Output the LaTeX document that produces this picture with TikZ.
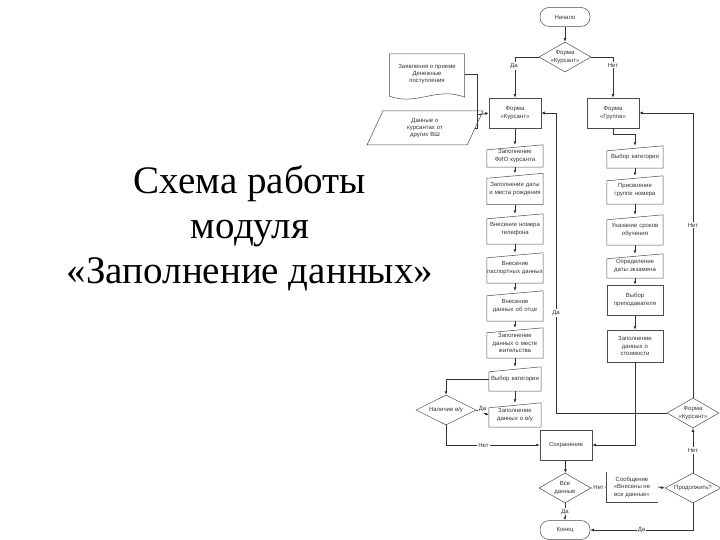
\documentclass[tikz,border=0pt]{standalone}
\usepackage{fontspec}
\setmainfont{Liberation Serif}
\newfontfamily\sm{Liberation Sans}
\usetikzlibrary{calc,shapes.geometric,arrows.meta}
\tikzset{
 shp/.style={draw=black!70,line width=0.5pt},
 txt/.style={inner sep=0pt,align=center,font=\sm\fontsize{6}{7.4}\selectfont,text=black!80},
 box/.style={txt,shp,minimum width=#1pt,minimum height=30pt},
 arr/.style={draw=black!80,line width=0.8pt,-{Latex[length=3.5pt,width=3pt]}},
 ln/.style={draw=black!80,line width=0.8pt},
 lbl/.style={txt,fill=white,inner sep=1pt},
 dec/.style={txt,shp,diamond,aspect=1.7,minimum width=#1pt,minimum height=30pt,inner sep=0pt},
 term/.style={txt,shp,rounded corners=9pt,minimum width=50pt,minimum height=19pt}
}
\newcommand\maninp[6]{\node[txt,minimum width=#4pt,minimum height=#5pt,text width=#4pt] (#1) at (#2,#3) {#6};
 \draw[shp] ($(#1.north west)+(0,5)$) -- (#1.north east) -- (#1.south east) -- (#1.south west) -- cycle;}
\begin{document}
\begin{tikzpicture}[x=1pt,y=-1pt]
\useasboundingbox (0,0) rectangle (720,540);
\node[font=\fontsize{39}{45}\selectfont,align=center] (title) at (250,228) {Схема работы\\модуля\\«Заполнение данных»};
% top
\node[term] (nach) at (565,17) {Начало};
\node[dec=52] (d1) at (565,57) {Форма\\«Курсант»};
% document
\node[txt,minimum width=75pt,minimum height=40pt] (doc) at (427,74) {Заявления о приеме\\Денежные\\поступления};
\draw[shp] (doc.north west) -- (doc.north east) -- ($(doc.south east)+(0,3)$)
  .. controls ($(doc.south)+(10,-8)$) and ($(doc.south)+(-10,12)$) .. ($(doc.south west)+(0,2)$) -- cycle;
\node[txt,trapezium,trapezium left angle=65,trapezium right angle=115,shp,minimum width=60pt,minimum height=34pt,text width=50pt] (par) at (425,128) {Данные о курсантах от других ВШ};
\node[box=52,text width=50pt] (fk) at (515,113) {Форма\\«Курсант»};
\node[box=52,text width=50pt] (fg) at (613,113) {Форма\\«Группа»};
% left column
\maninp{m1}{515}{156}{56}{22}{Заполнение ФИО курсанта}
\maninp{m2}{515}{189}{56}{31}{Заполнение даты и места рождения}
\maninp{m3}{515}{229}{56}{30}{Внесение номера телефона}
\maninp{m4}{515}{268}{56}{30}{Внесение паспортных данных}
\maninp{m5}{515}{306}{56}{30}{Внесение данных об отце}
\maninp{m6}{515}{343}{56}{30}{Заполнение данных о месте жительства}
\maninp{m7}{515}{379}{52}{24}{Выбор категории}
\maninp{m8}{515}{415}{52}{24}{Заполнение данных о в/у}
% right column
\maninp{r1}{635}{157}{56}{22}{Выбор категории}
\maninp{r2}{635}{190}{56}{28}{Присвоение группе номера}
\maninp{r3}{635}{230}{56}{30}{Указание сроков обучения}
\maninp{r4}{635}{266}{56}{24}{Определение даты экзамена}
\node[box=56,text width=54pt] (r5) at (635,300) {Выбор преподавателя};
\node[box=56,text width=54pt,minimum height=32pt] (r6) at (635,346) {Заполнение данных о стоимости};
% lower
\node[dec=60] (nal) at (446,410) {Наличие в/у};
\node[box=52] (sav) at (566,445) {Сохранение};
\node[dec=52] (d2) at (693,413) {Форма\\«Курсант»};
\node[dec=52] (vse) at (565,488) {Все\\данные};
\node[txt,minimum width=52pt,minimum height=30pt] (msg) at (632,487) {Сообщение\\«Внесены не\\все данные»};
\draw[shp] (msg.north west) -- (msg.south west) -- (msg.south east);
\node[dec=56] (prod) at (693,488) {Продолжить?};
\node[term] (kon) at (565,530) {Конец};
% connectors
\draw[arr] (nach) -- (d1);
\draw[arr] (d1.west) -| (fk.north);
\node[lbl] at (514,66) {Да};
\draw[arr] (d1.east) -| (fg.north);
\node[lbl] at (613,65) {Нет};
\coordinate (j1) at (477,115);
\draw[ln] (doc.east) -| (j1);
\draw[ln] (par.east) -| (j1);
\draw[arr] (j1) -- (fk.west);
\draw[arr] (fk) -- (m1);
\draw[arr] (m1) -- (m2);
\draw[arr] (m2) -- (m3);
\draw[arr] (m3) -- (m4);
\draw[arr] (m4) -- (m5);
\draw[arr] (m5) -- (m6);
\draw[arr] (m6) -- (m7);
\draw[arr] (m7) -- (m8);
\draw[arr] (m7.west) -| (nal.north);
\draw[arr] (nal.east) -- node[lbl,above=-1pt] {Да} (m8.west);
\draw[arr] (nal.south) |- node[lbl,pos=0.7] {Нет} (sav.west);
\draw[arr] (fg.south) -- ++(0,6) -| (r1.north);
\draw[arr] (r1) -- (r2);
\draw[arr] (r2) -- (r3);
\draw[arr] (r3) -- (r4);
\draw[arr] (r4) -- (r5);
\draw[arr] (r5) -- (r6);
\draw[arr] (r6.south) |- (sav.east);
\coordinate (j2) at (556,413);
\draw[arr] (d2.west) -- (j2) |- (fk.east);
\node[lbl] at (556,313) {Да};
\draw[arr] (d2.north) |- (fg.east);
\node[lbl] at (693,225) {Нет};
\draw[arr] (sav) -- (vse);
\draw[ln] (vse.east) -- node[lbl] {Нет} (msg.west);
\draw[arr] (msg.east) -- (prod.west);
\draw[arr] (prod.north) -- node[lbl] {Нет} (d2.south);
\draw[arr] (prod.south) |- node[lbl,pos=0.75] {Да} (kon.east);
\draw[arr] (vse.south) -- node[lbl] {Да} (kon.north);
\end{tikzpicture}
\end{document}
